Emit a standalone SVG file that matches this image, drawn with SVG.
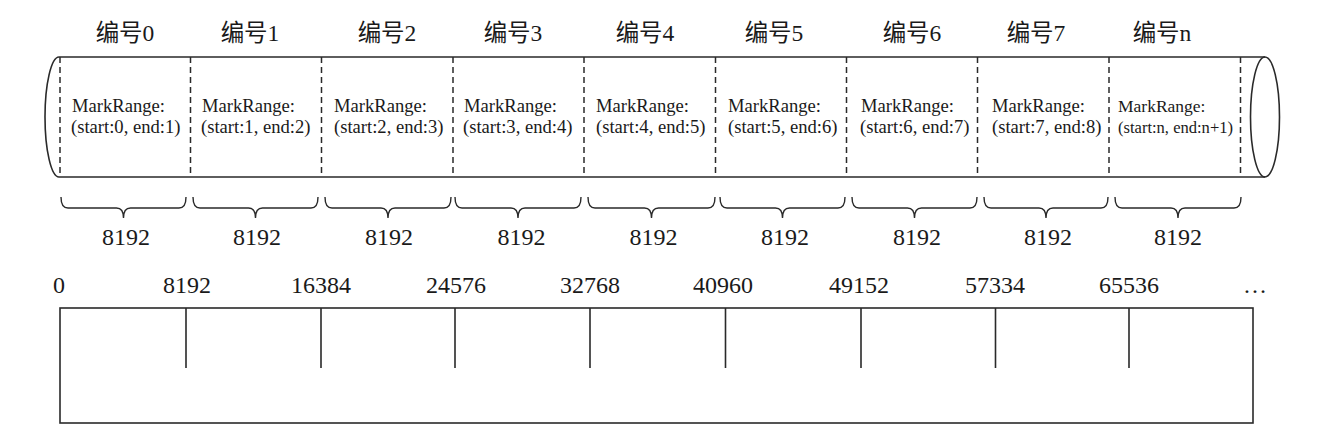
<svg xmlns="http://www.w3.org/2000/svg" width="1320" height="444" viewBox="0 0 1320 444">
<style>
.ln{fill:none;stroke:#2a2a2a;stroke-width:1.6}
.ds{fill:none;stroke:#2a2a2a;stroke-width:1.5;stroke-dasharray:6 4}
.br{fill:none;stroke:#2a2a2a;stroke-width:1.4}
.hd{font-family:"Liberation Serif","Noto Sans CJK SC",serif;font-size:23.5px;fill:#1a1a1a;text-anchor:middle}
.mr{font-family:"Liberation Serif",serif;font-size:18.6px;fill:#1a1a1a}
.num{font-family:"Liberation Serif",serif;font-size:24px;fill:#1a1a1a;text-anchor:middle}
</style>
<rect width="1320" height="444" fill="#ffffff"/>

<g id="cylinder">
<path class="ln" d="M59 57 L1265 57 M59 177 L1265 177"/>
<path class="ln" d="M59 57 A14 60 0 0 0 59 177"/>
<ellipse class="ln" cx="1265" cy="117" rx="14.5" ry="60"/>
<path class="ds" d="M60 57V177 M190.5 57V177 M321.5 57V177 M453 57V177 M584 57V177 M715.5 57V177 M846.5 57V177 M977.5 57V177 M1109 57V177 M1240.5 57V177"/>
</g>

<g id="headers">
<text class="hd" x="125" y="41">编号0</text>
<text class="hd" x="250" y="41">编号1</text>
<text class="hd" x="387" y="41">编号2</text>
<text class="hd" x="513" y="41">编号3</text>
<text class="hd" x="645" y="41">编号4</text>
<text class="hd" x="774" y="41">编号5</text>
<text class="hd" x="912" y="41">编号6</text>
<text class="hd" x="1036" y="41">编号7</text>
<text class="hd" x="1162" y="41">编号n</text>
</g>

<g id="seg0"><text class="mr" x="72" y="112">MarkRange:</text><text class="mr" x="71" y="133">(start:0, end:1)</text></g>
<g id="seg1"><text class="mr" x="202" y="112">MarkRange:</text><text class="mr" x="201" y="133">(start:1, end:2)</text></g>
<g id="seg2"><text class="mr" x="334" y="112">MarkRange:</text><text class="mr" x="334" y="133">(start:2, end:3)</text></g>
<g id="seg3"><text class="mr" x="464" y="112">MarkRange:</text><text class="mr" x="463" y="133">(start:3, end:4)</text></g>
<g id="seg4"><text class="mr" x="596" y="112">MarkRange:</text><text class="mr" x="596" y="133">(start:4, end:5)</text></g>
<g id="seg5"><text class="mr" x="728" y="112">MarkRange:</text><text class="mr" x="728" y="133">(start:5, end:6)</text></g>
<g id="seg6"><text class="mr" x="861" y="112">MarkRange:</text><text class="mr" x="860" y="133">(start:6, end:7)</text></g>
<g id="seg7"><text class="mr" x="992" y="112">MarkRange:</text><text class="mr" x="992" y="133">(start:7, end:8)</text></g>
<g id="segn"><text class="mr" x="1118" y="112" style="font-size:17.5px">MarkRange:</text><text class="mr" x="1118" y="133" textLength="115" lengthAdjust="spacingAndGlyphs" style="font-size:17.5px">(start:n, end:n+1)</text></g>

<g id="braces">
<path class="br" d="M61 197Q61 208 68 208L116.5 208Q123.5 208 123.5 218Q123.5 208 130.5 208L179 208Q186 208 186 197"/>
<path class="br" d="M193 197Q193 208 200 208L248.5 208Q255.5 208 255.5 218Q255.5 208 262.5 208L311 208Q318 208 318 197"/>
<path class="br" d="M325 197Q325 208 332 208L381 208Q388 208 388 218Q388 208 395 208L444 208Q451 208 451 197"/>
<path class="br" d="M455 197Q455 208 462 208L511 208Q518 208 518 218Q518 208 525 208L574 208Q581 208 581 197"/>
<path class="br" d="M588 197Q588 208 595 208L644.5 208Q651.5 208 651.5 218Q651.5 208 658.5 208L708 208Q715 208 715 197"/>
<path class="br" d="M720 197Q720 208 727 208L775.5 208Q782.5 208 782.5 218Q782.5 208 789.5 208L838 208Q845 208 845 197"/>
<path class="br" d="M852 197Q852 208 859 208L907.5 208Q914.5 208 914.5 218Q914.5 208 921.5 208L970 208Q977 208 977 197"/>
<path class="br" d="M984 197Q984 208 991 208L1039 208Q1046 208 1046 218Q1046 208 1053 208L1101 208Q1108 208 1108 197"/>
<path class="br" d="M1115 197Q1115 208 1122 208L1171 208Q1178 208 1178 218Q1178 208 1185 208L1234 208Q1241 208 1241 197"/>
</g>

<g id="sizes">
<text class="num" x="126" y="245">8192</text>
<text class="num" x="257" y="245">8192</text>
<text class="num" x="389" y="245">8192</text>
<text class="num" x="521.5" y="245">8192</text>
<text class="num" x="653.5" y="245">8192</text>
<text class="num" x="785" y="245">8192</text>
<text class="num" x="917" y="245">8192</text>
<text class="num" x="1048" y="245">8192</text>
<text class="num" x="1178" y="245">8192</text>
</g>

<g id="offsets">
<text class="num" x="59" y="293">0</text>
<text class="num" x="187" y="293">8192</text>
<text class="num" x="321" y="293">16384</text>
<text class="num" x="456" y="293">24576</text>
<text class="num" x="590" y="293">32768</text>
<text class="num" x="723" y="293">40960</text>
<text class="num" x="859" y="293">49152</text>
<text class="num" x="995" y="293">57334</text>
<text class="num" x="1129" y="293">65536</text>
<text class="num" x="1255" y="293">…</text>
</g>

<g id="file">
<rect class="ln" x="60" y="308" width="1193" height="115"/>
<path class="ln" d="M186 308V368 M321 308V368 M455 308V368 M590 308V368 M725.5 308V368 M861 308V368 M995.5 308V368 M1129 308V368"/>
</g>
</svg>
